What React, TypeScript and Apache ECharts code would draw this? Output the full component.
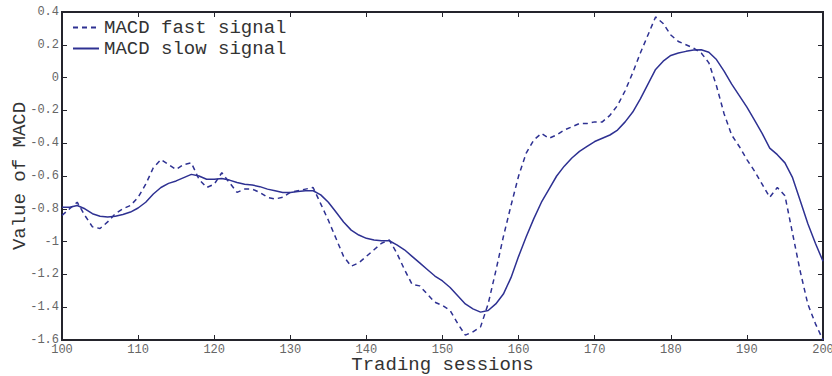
import React, { useEffect, useRef } from "react";
import * as echarts from "echarts";

const sessions: number[] = [];
for (let s = 100; s <= 200; s++) sessions.push(s);

const fastSignal = [
  -0.84, -0.80, -0.76, -0.84, -0.91, -0.92, -0.88, -0.83, -0.80, -0.78,
  -0.73, -0.65, -0.55, -0.50, -0.53, -0.56, -0.53, -0.52, -0.62, -0.67,
  -0.65, -0.58, -0.64, -0.70, -0.68, -0.68, -0.70, -0.73, -0.74, -0.73,
  -0.70, -0.69, -0.68, -0.67, -0.77, -0.87, -0.98, -1.09, -1.15, -1.13,
  -1.09, -1.05, -1.01, -0.99, -1.07, -1.17, -1.26, -1.27, -1.32, -1.37,
  -1.39, -1.42, -1.50, -1.57, -1.55, -1.52, -1.38, -1.18, -0.97, -0.78,
  -0.60, -0.46, -0.38, -0.34, -0.37, -0.35, -0.32, -0.30, -0.28, -0.28,
  -0.27, -0.27, -0.23, -0.17, -0.08, 0.03, 0.15, 0.26, 0.37, 0.33,
  0.26, 0.22, 0.20, 0.18, 0.15, 0.09, -0.05, -0.22, -0.35, -0.42,
  -0.50, -0.57, -0.65, -0.73, -0.67, -0.72, -0.95, -1.18, -1.38, -1.50,
  -1.60,
];

const slowSignal = [
  -0.79, -0.79, -0.78, -0.80, -0.83, -0.845, -0.85, -0.845, -0.835, -0.82,
  -0.795, -0.76, -0.71, -0.67, -0.645, -0.63, -0.61, -0.59, -0.60, -0.62,
  -0.62, -0.615, -0.625, -0.64, -0.65, -0.655, -0.665, -0.68, -0.69, -0.70,
  -0.70, -0.695, -0.69, -0.69, -0.715, -0.76, -0.82, -0.88, -0.93, -0.96,
  -0.98, -0.99, -0.995, -0.995, -1.02, -1.05, -1.09, -1.13, -1.17, -1.21,
  -1.24, -1.28, -1.33, -1.38, -1.41, -1.43, -1.42, -1.38, -1.32, -1.22,
  -1.09, -0.97, -0.86, -0.76, -0.68, -0.60, -0.54, -0.49, -0.45, -0.42,
  -0.39, -0.37, -0.35, -0.32, -0.27, -0.21, -0.13, -0.04, 0.05, 0.10,
  0.135, 0.15, 0.16, 0.168, 0.17, 0.155, 0.11, 0.04, -0.04, -0.11,
  -0.18, -0.26, -0.34, -0.43, -0.47, -0.52, -0.61, -0.75, -0.89, -1.01,
  -1.12,
];

const seriesNames = ["MACD fast signal", "MACD slow signal"];
const xTitle = "Trading sessions";
const yTitle = "Value of MACD";

const MONO = "Liberation Mono";
const LINE_COLOR = "#2e3192";
const AXIS_COLOR = "#24242c";

export default function App() {
  const ref = useRef<HTMLDivElement>(null);

  useEffect(() => {
    if (!ref.current) return;
    const chart = echarts.init(ref.current, undefined, { renderer: "svg" });
    const axisLine = () => ({ show: true, onZero: false, lineStyle: { color: AXIS_COLOR, width: 2 } });
    const axisTick = () => ({ show: true, inside: true, length: 5, lineStyle: { color: AXIS_COLOR, width: 1 } });
    const fmt = (v: number) => String(Number(v.toFixed(1)));
    chart.setOption({
      animation: false,
      grid: {
        left: 62,
        right: 9,
        top: 12,
        bottom: 36,
        outerBoundsMode: "none",
        show: true,
        borderColor: AXIS_COLOR,
        borderWidth: 2,
      },
      legend: {
        show: true,
        orient: "vertical",
        left: 72,
        top: 18,
        padding: 0,
        itemWidth: 26,
        itemHeight: 14,
        itemGap: 2,
        itemStyle: { opacity: 0 },
        textStyle: { color: "#333", fontFamily: MONO, fontSize: 19, lineHeight: 17 },
        data: seriesNames,
      },
      xAxis: [
        {
          type: "value",
          min: 100,
          max: 200,
          interval: 10,
          position: "bottom",
          name: xTitle,
          nameLocation: "middle",
          nameGap: 17,
          nameMoveOverlap: false,
          nameTextStyle: { color: "#333", fontFamily: MONO, fontSize: 19, lineHeight: 16 },
          axisLine: axisLine(),
          axisTick: axisTick(),
          axisLabel: { color: "#666", fontFamily: MONO, fontSize: 12, margin: 4 },
          splitLine: { show: false },
        },
        {
          type: "value",
          min: 100,
          max: 200,
          interval: 10,
          position: "top",
          axisLine: axisLine(),
          axisTick: axisTick(),
          axisLabel: { show: false },
          splitLine: { show: false },
        },
      ],
      yAxis: [
        {
          type: "value",
          min: -1.6,
          max: 0.4,
          interval: 0.2,
          position: "left",
          name: yTitle,
          nameLocation: "middle",
          nameGap: 33,
          nameMoveOverlap: false,
          nameRotate: 90,
          nameTextStyle: { color: "#333", fontFamily: MONO, fontSize: 19 },
          axisLine: axisLine(),
          axisTick: axisTick(),
          axisLabel: { color: "#666", fontFamily: MONO, fontSize: 12, margin: 3, formatter: fmt },
          splitLine: { show: false },
        },
        {
          type: "value",
          min: -1.6,
          max: 0.4,
          interval: 0.2,
          position: "right",
          axisLine: axisLine(),
          axisTick: axisTick(),
          axisLabel: { show: false },
          splitLine: { show: false },
        },
      ],
      series: [
        {
          name: seriesNames[0],
          type: "line",
          symbol: "none",
          data: sessions.map((s, i) => [s, fastSignal[i]]),
          lineStyle: { color: LINE_COLOR, width: 1.5, type: [5, 4] },
          itemStyle: { color: LINE_COLOR },
        },
        {
          name: seriesNames[1],
          type: "line",
          symbol: "none",
          data: sessions.map((s, i) => [s, slowSignal[i]]),
          lineStyle: { color: LINE_COLOR, width: 1.5 },
          itemStyle: { color: LINE_COLOR },
        },
      ],
    });
    return () => chart.dispose();
  }, []);

  return <div ref={ref} style={{ width: 832, height: 376, position: "absolute", left: 0, top: 0 }} />;
}
